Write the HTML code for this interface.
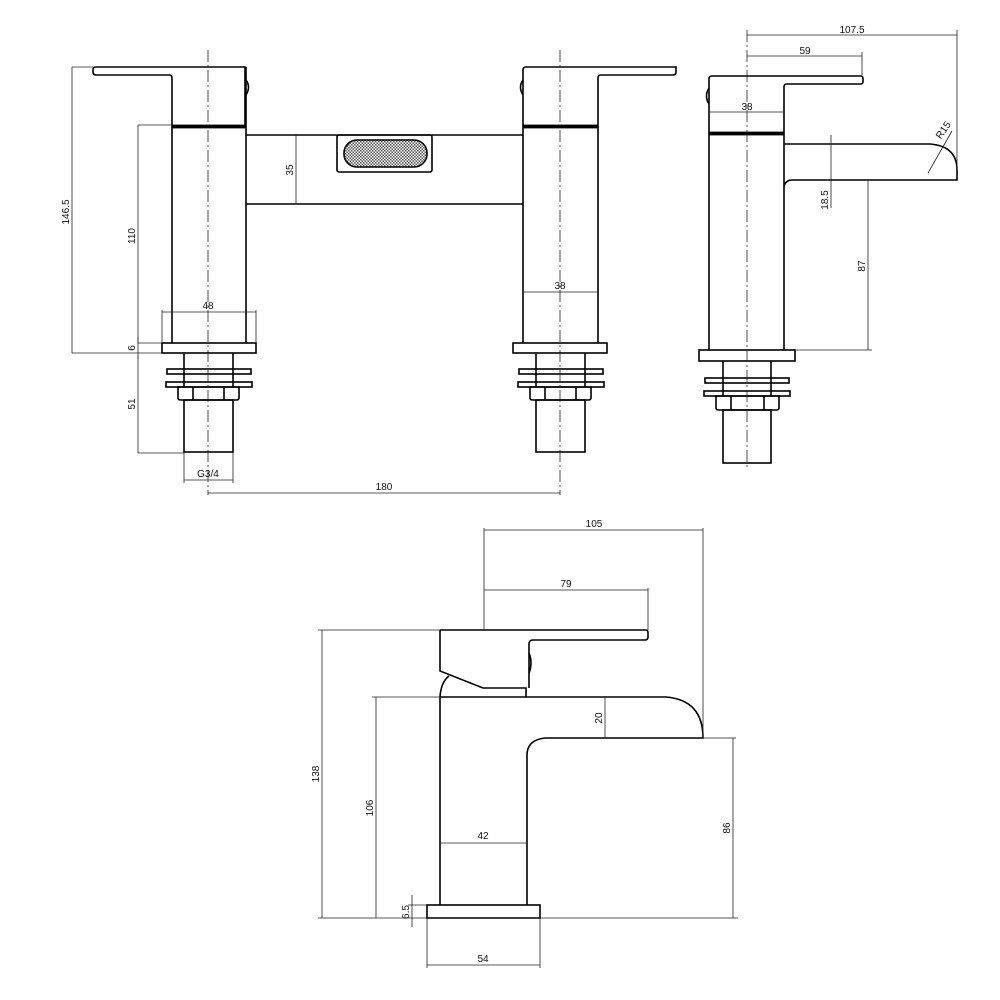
<!DOCTYPE html>
<html><head><style>body{margin:0;background:#fff}svg{display:block}text{font-family:"Liberation Sans",sans-serif;font-size:10px;fill:#111}</style></head><body>
<svg width="1000" height="1000" viewBox="0 0 1000 1000" xmlns="http://www.w3.org/2000/svg">
<defs>
<pattern id="hx" width="3" height="3" patternUnits="userSpaceOnUse"><rect width="3" height="3" fill="#fff"/><rect width="1.5" height="1.5" fill="#555"/><rect x="1.5" y="1.5" width="1.5" height="1.5" fill="#555"/></pattern>
</defs>
<g fill="none" stroke="#000" stroke-width="1.6">
<!-- left pillar -->
<path d="M96,67 H245 V125 M96,67 Q93,67 93,70 V72 Q93,75 96,75 H169 Q172,75 172,78 V343"/>
<rect x="172" y="125" width="74" height="3" fill="#000" stroke-width="0.8"/>
<line x1="246" y1="67" x2="246" y2="343"/>
<path d="M246,80 Q251,87 246,95"/>
<rect x="162" y="343" width="94" height="10"/>
<line x1="184" y1="353" x2="184" y2="387"/><line x1="233" y1="353" x2="233" y2="387"/>
<rect x="167" y="369" width="84" height="5"/><rect x="166" y="382" width="86" height="5"/>
<path d="M178,387 H239 V398 Q239,400 236,400 H181 Q178,400 178,398 Z"/>
<line x1="193" y1="387" x2="193" y2="400"/><line x1="224" y1="387" x2="224" y2="400"/>
<rect x="184" y="400" width="49" height="52"/>
<!-- bridge -->
<path d="M246,135 H523 M246,204 H523"/>
<rect x="337" y="135" width="95" height="37" rx="2"/>
<rect x="344" y="140" width="83" height="27" rx="13" fill="url(#hx)"/>
<!-- right pillar -->
<path d="M523,70 Q523,67 526,67 H676 V72 Q676,75 673,75 H601 Q598,75 598,78 V343 M523,70 V343"/>
<rect x="523" y="125" width="75" height="3" fill="#000" stroke-width="0.8"/>
<path d="M523,80 Q518,87 523,95"/>
<rect x="513" y="343" width="94" height="10"/>
<line x1="536" y1="353" x2="536" y2="387"/><line x1="585" y1="353" x2="585" y2="387"/>
<rect x="519" y="369" width="84" height="5"/><rect x="518" y="382" width="86" height="5"/>
<path d="M530,387 H591 V398 Q591,400 588,400 H533 Q530,400 530,398 Z"/>
<line x1="545" y1="387" x2="545" y2="400"/><line x1="576" y1="387" x2="576" y2="400"/>
<rect x="536" y="400" width="49" height="52"/>
<!-- side view -->
<path d="M712,76 H861 Q863,76 863,79 V81 Q863,84 861,84 H787 Q784,84 784,87 V350 M712,76 Q709,76 709,79 V350"/>
<rect x="709" y="132" width="75" height="3" fill="#000" stroke-width="0.8"/>
<path d="M709,88 Q704,96 709,104"/>
<path d="M784,144 H930 Q957,146 957,170 V180 H792 Q786,180 784,186"/>
<rect x="699" y="350" width="96" height="11"/>
<line x1="723" y1="361" x2="723" y2="396"/><line x1="771" y1="361" x2="771" y2="396"/>
<rect x="705" y="378" width="84" height="5"/><rect x="704" y="391" width="86" height="5"/>
<path d="M716,396 H779 V408 Q779,410 776,410 H719 Q716,410 716,408 Z"/>
<line x1="731" y1="396" x2="731" y2="410"/><line x1="764" y1="396" x2="764" y2="410"/>
<rect x="723" y="410" width="48" height="53"/>
<!-- bottom view -->
<path d="M440,630 H646 Q648,630 648,633 V637 Q648,640 645,640 H533 Q529,640 529,644 V688 M440,630 V671 L483,688 H526 V697"/>
<path d="M529,653 Q533,663 529,673"/>
<path d="M440,697 Q441,682 449,676"/>
<path d="M440,697 H666 Q703,700 703,738 H545 Q527,740 527,755 V905 M440,697 V905"/>
<rect x="427" y="905" width="113" height="13"/>
</g>
<g stroke="#222" stroke-width="0.8" fill="none">
<!-- centerlines -->
<line x1="208" y1="50" x2="208" y2="495" stroke-dasharray="12,3,2,3"/>
<line x1="560" y1="50" x2="560" y2="495" stroke-dasharray="12,3,2,3"/>
<line x1="747" y1="30" x2="747" y2="470" stroke-dasharray="12,3,2,3"/>
<!-- left dims -->
<line x1="72" y1="67" x2="93" y2="67"/><line x1="72" y1="353" x2="162" y2="353"/>
<line x1="72" y1="67" x2="72" y2="353"/>
<line x1="138" y1="125" x2="172" y2="125"/><line x1="138" y1="125" x2="138" y2="343"/>
<line x1="138" y1="343" x2="162" y2="343"/>
<line x1="138" y1="337" x2="138" y2="359"/>
<line x1="138" y1="356" x2="138" y2="453"/><line x1="138" y1="453" x2="184" y2="453"/>
<line x1="162" y1="310" x2="162" y2="343"/><line x1="256" y1="310" x2="256" y2="343"/><line x1="162" y1="312" x2="256" y2="312"/>
<line x1="184" y1="452" x2="184" y2="483"/><line x1="233" y1="452" x2="233" y2="483"/><line x1="184" y1="480" x2="233" y2="480"/>
<line x1="208" y1="493" x2="560" y2="493"/>
<line x1="296" y1="135" x2="296" y2="204"/>
<line x1="523" y1="292" x2="598" y2="292"/>
<!-- side dims -->
<line x1="747" y1="35" x2="957" y2="35"/><line x1="957" y1="30" x2="957" y2="170"/>
<line x1="747" y1="56" x2="862" y2="56"/><line x1="862" y1="52" x2="862" y2="76"/>
<line x1="709" y1="112" x2="784" y2="112"/>
<line x1="831" y1="135" x2="831" y2="208"/>
<line x1="868" y1="180" x2="868" y2="350"/><line x1="795" y1="350" x2="872" y2="350"/>
<line x1="928" y1="173" x2="952" y2="131"/>
<!-- bottom dims -->
<line x1="484" y1="530" x2="703" y2="530"/><line x1="484" y1="528" x2="484" y2="630"/><line x1="703" y1="528" x2="703" y2="738"/>
<line x1="484" y1="590" x2="648" y2="590"/><line x1="648" y1="588" x2="648" y2="630"/>
<line x1="318" y1="630" x2="440" y2="630"/><line x1="322" y1="630" x2="322" y2="918"/>
<line x1="318" y1="918" x2="738" y2="918"/>
<line x1="372" y1="697" x2="440" y2="697"/><line x1="376" y1="697" x2="376" y2="918"/>
<line x1="605" y1="697" x2="605" y2="738"/>
<line x1="703" y1="738" x2="736" y2="738"/><line x1="733" y1="738" x2="733" y2="918"/>
<line x1="440" y1="843" x2="527" y2="843"/>
<line x1="412" y1="895" x2="412" y2="927"/><line x1="408" y1="905" x2="427" y2="905"/>
<line x1="427" y1="918" x2="427" y2="968"/><line x1="540" y1="918" x2="540" y2="968"/><line x1="427" y1="965" x2="540" y2="965"/>
</g>
<g>
<text transform="translate(69,212) rotate(-90)" text-anchor="middle">146.5</text>
<text transform="translate(135,236) rotate(-90)" text-anchor="middle">110</text>
<text transform="translate(135,348) rotate(-90)" text-anchor="middle">6</text>
<text transform="translate(135,404) rotate(-90)" text-anchor="middle">51</text>
<text x="208" y="309" text-anchor="middle">48</text>
<text x="208" y="477" text-anchor="middle">G3/4</text>
<text x="384" y="490" text-anchor="middle">180</text>
<text transform="translate(293,170) rotate(-90)" text-anchor="middle">35</text>
<text x="560" y="289" text-anchor="middle">38</text>
<text x="852" y="33" text-anchor="middle">107.5</text>
<text x="805" y="54" text-anchor="middle">59</text>
<text x="747" y="110" text-anchor="middle">38</text>
<text transform="translate(946,132) rotate(-55)" text-anchor="middle">R15</text>
<text transform="translate(828,200) rotate(-90)" text-anchor="middle">18.5</text>
<text transform="translate(865,266) rotate(-90)" text-anchor="middle">87</text>
<text x="594" y="527" text-anchor="middle">105</text>
<text x="566" y="587" text-anchor="middle">79</text>
<text transform="translate(319,774) rotate(-90)" text-anchor="middle">138</text>
<text transform="translate(373,808) rotate(-90)" text-anchor="middle">106</text>
<text transform="translate(602,718) rotate(-90)" text-anchor="middle">20</text>
<text transform="translate(730,828) rotate(-90)" text-anchor="middle">86</text>
<text x="483" y="839" text-anchor="middle">42</text>
<text transform="translate(409,912) rotate(-90)" text-anchor="middle">6.5</text>
<text x="483" y="962" text-anchor="middle">54</text>
</g>
</svg>
</body></html>
